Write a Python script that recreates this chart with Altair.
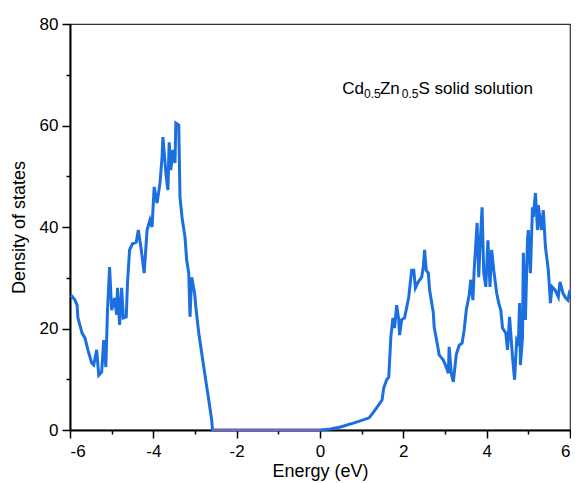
import altair as alt
import pandas as pd

# Density of states (blue curve)
energy = [-5.98, -5.88, -5.83, -5.81, -5.71, -5.64, -5.57, -5.48, -5.43, -5.36,
          -5.31, -5.24, -5.19, -5.14, -5.10, -5.05, -5.00, -4.93, -4.88, -4.86,
          -4.81, -4.76, -4.72, -4.65, -4.62, -4.57, -4.50, -4.41, -4.36, -4.29,
          -4.22, -4.15, -4.08, -4.03, -3.98, -3.91, -3.84, -3.79, -3.77, -3.69,
          -3.65, -3.62, -3.58, -3.53, -3.48, -3.46, -3.39, -3.36, -3.31, -3.24,
          -3.20, -3.15, -3.12, -3.08, -3.01, -2.98, -2.91, -2.79, -2.67, -2.60,
          -2.58, -2.0, -1.0, 0.0,
          0.01, 0.25, 0.49, 0.82, 1.18, 1.32, 1.49, 1.53, 1.60, 1.65,
          1.70, 1.75, 1.79, 1.84, 1.89, 1.91, 1.96, 2.03, 2.13, 2.20,
          2.25, 2.29, 2.36, 2.44, 2.48, 2.51, 2.55, 2.60, 2.63, 2.72,
          2.74, 2.82, 2.86, 2.96, 3.03, 3.08, 3.10, 3.15, 3.20, 3.27,
          3.34, 3.41, 3.46, 3.51, 3.58, 3.62, 3.67, 3.70, 3.77, 3.81,
          3.84, 3.89, 3.93, 3.98, 4.03, 4.08, 4.12, 4.17, 4.24, 4.29,
          4.34, 4.38, 4.46, 4.50, 4.55, 4.62, 4.67, 4.72, 4.76, 4.79,
          4.81, 4.86, 4.88, 4.93, 4.98, 5.00, 5.05, 5.10, 5.12, 5.17,
          5.22, 5.24, 5.31, 5.36, 5.41, 5.48, 5.53, 5.57, 5.64, 5.72,
          5.76, 5.83, 5.88, 5.95, 6.00]
dos = [26.6, 25.6, 24.6, 22.1, 19.1, 18.1, 15.8, 13.2, 12.8, 15.8,
       10.8, 11.4, 17.7, 12.4, 23.6, 32.1, 23.6, 26.0, 22.7, 28.0,
       20.7, 28.0, 22.1, 22.3, 29.0, 35.5, 36.7, 37.0, 39.4, 35.5,
       30.9, 39.4, 41.4, 40.0, 47.9, 44.7, 48.7, 53.8, 57.7, 49.9,
       47.3, 56.7, 51.2, 55.2, 52.6, 60.5, 60.1, 45.9, 41.8, 38.0,
       33.5, 30.9, 22.3, 30.1, 27.0, 24.2, 19.1, 12.4, 5.9, 2.0,
       0.0, 0.0, 0.0, 0.0,
       0.0, 0.2, 0.6, 1.4, 2.4, 3.9, 5.9, 8.3, 9.9, 10.4,
       18.3, 22.1, 20.1, 24.6, 21.7, 18.7, 21.7, 22.1, 26.2, 31.5,
       31.5, 28.0, 29.2, 30.1, 32.1, 35.5, 31.5, 30.9, 27.6, 23.1,
       20.3, 16.7, 14.8, 13.8, 12.4, 11.2, 16.4, 11.2, 9.5, 14.8,
       16.7, 17.1, 19.7, 23.6, 26.6, 29.6, 25.6, 31.5, 40.8, 30.1,
       36.1, 43.9, 30.9, 28.2, 37.4, 28.2, 35.5, 31.5, 27.0, 25.0,
       23.6, 20.1, 19.1, 15.8, 22.3, 14.4, 9.9, 17.7, 17.1, 25.0,
       12.8, 18.3, 34.9, 21.7, 37.4, 39.4, 30.9, 43.9, 42.0, 46.7,
       39.4, 44.3, 39.4, 43.3, 36.1, 31.5, 25.0, 28.2, 27.6, 26.2,
       29.2, 27.0, 26.2, 25.6, 27.6]

# Purple series lying on zero inside the gap
gap_energy = [-2.58, 0.02]
gap_dos = [0.0, 0.0]

# Annotation pieces: Cd0.5Zn0.5S solid solution
ann_text = ["Cd", "0.5", "Zn", "0.5", "S solid solution"]
ann_x = [0.535, 1.058, 1.438, 1.961, 2.365]
ann_y = [66.15, 65.35, 66.15, 65.35, 66.15]
ann_size = [17, 12, 17, 12, 17]

x_ticks = list(range(-6, 7))
y_ticks = list(range(0, 81, 10))

FONT = "Liberation Sans"

df = pd.DataFrame({"energy": energy, "dos": dos})
gap = pd.DataFrame({"energy": gap_energy, "dos": gap_dos})
ann = pd.DataFrame({"x": ann_x, "y": ann_y, "text": ann_text, "fs": ann_size})

x_scale = alt.Scale(domain=[-6, 6], nice=False, zero=False)
y_scale = alt.Scale(domain=[0, 80], nice=False, zero=False)

x_axis = alt.Axis(
    values=x_ticks,
    title="Energy (eV)",
    labelExpr="datum.value % 2 === 0 ? '' + datum.value : ''",
    tickSize={"condition": {"test": "datum.value % 2 !== 0", "value": 4}, "value": 8},
    labelPadding=5,
    titlePadding=3,
    grid=False,
)
y_axis = alt.Axis(
    values=y_ticks,
    title="Density of states",
    labelExpr="datum.value % 20 === 0 ? '' + datum.value : ''",
    tickSize={"condition": {"test": "datum.value % 20 !== 0", "value": 4}, "value": 8},
    labelPadding=4,
    titlePadding=11,
    grid=False,
)

line = alt.Chart(df).mark_line(color="#1c6fe0", strokeWidth=3).encode(
    x=alt.X("energy:Q", scale=x_scale, axis=x_axis),
    y=alt.Y("dos:Q", scale=y_scale, axis=y_axis),
    order="energy:Q",
)
gapline = alt.Chart(gap).mark_line(color="#8e5fa8", strokeWidth=2).encode(
    x="energy:Q", y="dos:Q"
)
text = alt.Chart(ann).mark_text(align="left", baseline="alphabetic", font=FONT, color="black").encode(
    x="x:Q", y="y:Q", text="text:N", size=alt.Size("fs:Q", scale=None, legend=None)
)

chart = (
    alt.layer(line, gapline, text)
    .properties(
        width=500,
        height=406,
        background="white",
        autosize=alt.AutoSizeParams(type="none"),
        padding={"left": 62, "top": 16, "right": 1, "bottom": 53},
    )
    .configure_view(stroke="#333333", strokeWidth=1.2)
    .configure_axis(
        domainColor="black",
        domainWidth=2,
        tickColor="black",
        tickWidth=1.5,
        labelFont=FONT,
        labelFontSize=17,
        labelColor="black",
        titleFont=FONT,
        titleFontSize=18,
        titleFontWeight="normal",
        titleColor="black",
    )
)

chart.save("out.html", embed_options={"renderer": "svg", "actions": False})
